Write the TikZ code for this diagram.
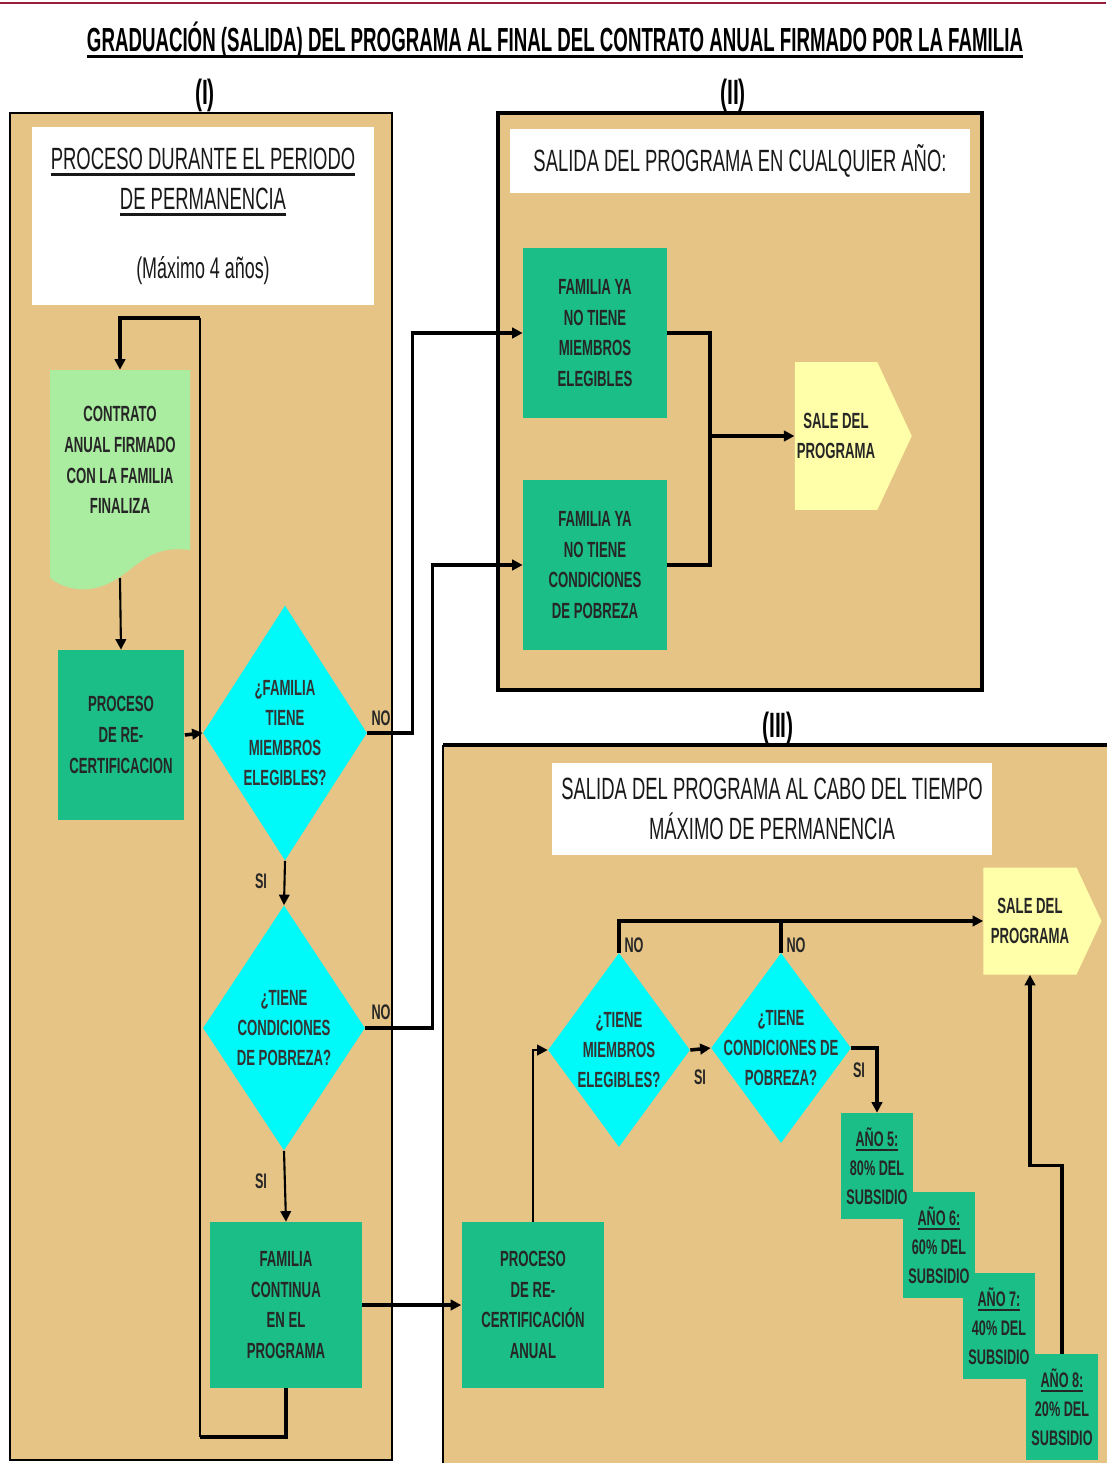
\documentclass[tikz,border=0pt]{standalone}
\usepackage{fontspec}
\setmainfont{Liberation Sans}[FakeStretch=0.6]
\newfontfamily\titlefont{Liberation Sans}[FakeStretch=0.56]
\usetikzlibrary{shapes.geometric, shapes.symbols, arrows.meta, positioning}

\definecolor{panelTan}{RGB}{229,196,134}
\definecolor{boxTeal}{RGB}{28,190,136}
\definecolor{docGreen}{RGB}{170,236,160}
\definecolor{diaCyan}{RGB}{0,250,250}
\definecolor{exitYellow}{RGB}{255,255,170}
\definecolor{topRed}{RGB}{150,30,60}

% thick underline, as in the original slide
\newcommand{\ulthick}[1]{\setbox0\hbox{#1}\rlap{\rule[-0.22em]{\wd0}{0.11em}}\box0}

\begin{document}
\begin{tikzpicture}[x=0.02cm, y=-0.02cm,
    panel/.style={draw=black, fill=panelTan, line width=0.8pt},
    header/.style={rectangle, fill=white, align=center, inner sep=0pt, text=black!90, font=\fontsize{17.5}{23}\selectfont},
    procbox/.style={rectangle, fill=boxTeal, align=center, inner sep=0pt, text=black!85, font=\fontsize{12.5}{17.5}\selectfont\bfseries},
    yearbox/.style={procbox, minimum width=1.44cm, minimum height=2.12cm, font=\fontsize{12}{16.5}\selectfont\bfseries},
    question/.style={diamond, fill=diaCyan, inner sep=0pt},
    qtext/.style={align=center, text=black!80, font=\fontsize{12.5}{17}\selectfont\bfseries},
    exitbox/.style={signal, signal from=nowhere, signal to=east, signal pointer angle=130, fill=exitYellow, align=center, inner sep=0pt, text=black!85, font=\fontsize{12.5}{17.5}\selectfont\bfseries},
    answer/.style={font=\fontsize{12}{14}\selectfont\bfseries, text=black!85},
    numeral/.style={font=\fontsize{20}{22}\selectfont\bfseries},
    flow/.style={line width=2pt},
    arr/.style={-{Triangle[length=6pt, width=6pt]}, line width=1.2pt},
    thickarr/.style={arr, line width=2pt}
]
    \useasboundingbox (0,0) rectangle (1106,1463);
    \fill[white] (0,0) rectangle (1106,1463);
    \draw[topRed, line width=1.5pt] (0,3) -- (1106,3);

    % --- Title and section numbers ---
    \node[font=\titlefont\fontsize{19}{22}\selectfont\bfseries] (title) at (555,40)
        {\ulthick{GRADUACIÓN (SALIDA) DEL PROGRAMA AL FINAL DEL CONTRATO ANUAL FIRMADO POR LA FAMILIA}};
    \node[numeral] (numI) at (205,95) {(I)};
    \node[numeral] (numII) at (733,95) {(II)};
    \node[numeral] (numIII) at (778,728) {(III)};

    % --- Panels ---
    \draw[panel] (10,113) rectangle (392,1460);
    \draw[panel, line width=1.8pt] (498,113) rectangle (982,690);
    \fill[panelTan] (443,745) rectangle (1110,1470);
    \draw[line width=0.8pt] (443,1470) -- (443,745);
    \draw[line width=2.2pt] (443,745) -- (1110,745);

    % --- Panel headers ---
    \node[header, minimum width=6.84cm, minimum height=3.56cm] (hdrI) at (203,216)
        {\ulthick{PROCESO DURANTE EL PERIODO}\\\ulthick{DE PERMANENCIA}\\[16pt]{\fontsize{17}{20}\selectfont(Máximo 4 años)}};
    \node[header, minimum width=9.2cm, minimum height=1.3cm] (hdrII) at (740,161)
        {SALIDA DEL PROGRAMA EN CUALQUIER AÑO:};
    \node[header, minimum width=8.8cm, minimum height=1.84cm] (hdrIII) at (772,809)
        {SALIDA DEL PROGRAMA AL CABO DEL TIEMPO\\MÁXIMO DE PERMANENCIA};

    % --- (I) Process during the stay ---
    \fill[docGreen] (50,370) -- (190,370) -- (190,550)
        .. controls (150,545) and (140,565) .. (115,580)
        .. controls (90,595) and (65,590) .. (50,578) -- cycle;
    \node[procbox, fill=none, minimum width=2.8cm, minimum height=3.6cm] (contrato) at (120,460)
        {CONTRATO\\ANUAL FIRMADO\\CON LA FAMILIA\\FINALIZA};
    \coordinate (docBottom) at (120,578);

    \node[procbox, minimum width=2.54cm, minimum height=3.4cm] (recert) at (121,735)
        {PROCESO\\DE RE-\\CERTIFICACION};
    \node[question, minimum width=3.28cm, minimum height=5.1cm,
        label={[qtext]center:{¿FAMILIA\\TIENE\\MIEMBROS\\ELEGIBLES?}}] (famQ) at (285,733) {};
    \node[question, minimum width=3.24cm, minimum height=4.9cm,
        label={[qtext]center:{¿TIENE\\CONDICIONES\\DE POBREZA?}}] (pobQ) at (284,1028) {};
    \node[procbox, minimum width=3.04cm, minimum height=3.32cm] (continua) at (286,1305)
        {FAMILIA\\CONTINUA\\EN EL\\PROGRAMA};

    \node[answer] (noFam) at (381,718) {NO};
    \node[answer] (siFam) at (261,881) {SI};
    \node[answer] (noPob) at (381,1012) {NO};
    \node[answer] (siPob) at (261,1181) {SI};

    \coordinate (loopTop) at (200,318);
    \coordinate (loopBot) at (200,1437);

    \draw[arr] (docBottom) -- (recert.north);
    \draw[thickarr] (recert.east) -- (famQ.west);
    \draw[arr] (famQ.south) -- (pobQ.north);
    \draw[arr] (pobQ.south) -- (continua.north);
    \draw[flow] (continua.south) |- (loopBot);
    \draw[line width=1.2pt] (loopBot) -- (loopTop);
    \draw[thickarr] (loopTop) -| (contrato.north);

    % --- (II) Exit in any year ---
    \node[procbox, minimum width=2.88cm, minimum height=3.4cm] (sinMiembros) at (595,333)
        {FAMILIA YA\\NO TIENE\\MIEMBROS\\ELEGIBLES};
    \node[procbox, minimum width=2.88cm, minimum height=3.4cm] (sinPobreza) at (595,565)
        {FAMILIA YA\\NO TIENE\\CONDICIONES\\DE POBREZA};
    \node[exitbox, minimum width=2.34cm, minimum height=2.96cm] (saleAny) at (836,436)
        {SALE DEL\\PROGRAMA};
    \coordinate (merge) at (710,436);

    \draw[thickarr] (famQ.east) -- ++(45,0) |- (sinMiembros.west);
    \draw[thickarr] (pobQ.east) -- ++(67,0) |- (sinPobreza.west);
    \draw[flow] (sinMiembros.east) -| (merge) |- (sinPobreza.east);
    \draw[thickarr] (merge) -- (saleAny.west);

    % --- (III) Exit after the maximum stay ---
    \node[procbox, minimum width=2.86cm, minimum height=3.32cm] (recertAnual) at (533,1305)
        {PROCESO\\DE RE-\\CERTIFICACIÓN\\ANUAL};
    \node[question, minimum width=2.84cm, minimum height=3.88cm,
        label={[qtext]center:{¿TIENE\\MIEMBROS\\ELEGIBLES?}}] (famQb) at (619,1050) {};
    \node[question, minimum width=2.8cm, minimum height=3.8cm,
        label={[qtext]center:{¿TIENE\\CONDICIONES DE\\POBREZA?}}] (pobQb) at (781,1048) {};
    \node[exitbox, minimum width=2.36cm, minimum height=2.14cm] (saleMax) at (1030,921)
        {SALE DEL\\PROGRAMA};

    % year boxes overlap, the earlier one on top
    \node[yearbox] (anio8) at (1062,1407) {\ulthick{AÑO 8:}\\20\% DEL\\SUBSIDIO};
    \node[yearbox] (anio7) at (999,1326) {\ulthick{AÑO 7:}\\40\% DEL\\SUBSIDIO};
    \node[yearbox] (anio6) at (939,1245) {\ulthick{AÑO 6:}\\60\% DEL\\SUBSIDIO};
    \node[yearbox] (anio5) at (877,1166) {\ulthick{AÑO 5:}\\80\% DEL\\SUBSIDIO};

    \node[answer] (noFamb) at (634,945) {NO};
    \node[answer] (noPobb) at (796,945) {NO};
    \node[answer] (siFamb) at (700,1077) {SI};
    \node[answer] (siPobb) at (859,1070) {SI};

    \draw[thickarr] (continua.east) -- (recertAnual.west);
    \draw[arr] (recertAnual.north) |- (famQb.west);
    \draw[thickarr] (famQb.east) -- (pobQb.west);
    \draw[thickarr] (famQb.north) |- (saleMax.west);
    \draw[flow] (pobQb.north) -- (pobQb.north |- saleMax.west);
    \draw[thickarr] (pobQb.east) -| (anio5.north);
    \draw[thickarr] (anio8.north) -- ++(0,-188) -| (saleMax.south);

\end{tikzpicture}
\end{document}
